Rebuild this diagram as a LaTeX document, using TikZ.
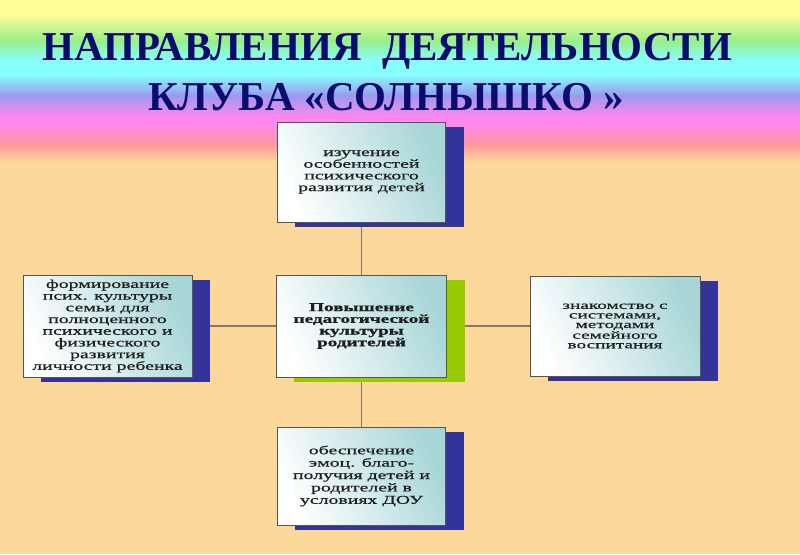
\documentclass[tikz,border=0pt]{standalone}
\usepackage{fontspec}
\setmainfont{Liberation Serif}
\newfontfamily\boxfont[FakeStretch=1.65, FakeBold=0.8]{Liberation Serif}
\newfontfamily\boxfontw[FakeStretch=1.75, FakeBold=0.8]{Liberation Serif}
\newfontfamily\boxfontb[FakeStretch=1.6, FakeBold=1.2]{Liberation Serif Bold}
\pgfdeclarelayer{bg}
\pgfdeclarelayer{lines}
\pgfdeclarelayer{shadows}
\pgfsetlayers{bg,lines,shadows,main}
\definecolor{cyel}{HTML}{FFFF99}
\definecolor{cgrn}{HTML}{99EE88}
\definecolor{ccyn}{HTML}{88FFFF}
\definecolor{clav}{HTML}{9A9AEE}
\definecolor{cpnk}{HTML}{FF88EE}
\definecolor{csal}{HTML}{FF9A9A}
\definecolor{cpeach}{HTML}{FCD99B}
\definecolor{navy}{RGB}{12,12,110}
\definecolor{boxteal}{HTML}{A8D6D8}
\definecolor{boxborder}{HTML}{555555}
\definecolor{boxtext}{HTML}{1E1E1E}
\definecolor{shblue}{HTML}{333399}
\definecolor{shgreen}{HTML}{99CC00}
\definecolor{linec}{HTML}{857862}
\tikzset{
  titletext/.style={text=navy, font=\fontsize{41}{41}\selectfont\bfseries, inner sep=0pt, anchor=base},
  infobox/.style={draw=boxborder, line width=0.6pt, left color=white, right color=boxteal,
    shading angle=115, align=center, text=boxtext, inner sep=2pt,
    font=\boxfont\fontsize{12}{11.7}\selectfont},
  conn/.style={draw=linec, line width=1.8pt},
}
\begin{document}
\begin{tikzpicture}[x=1pt,y=-1pt]
\useasboundingbox (0,0) rectangle (800,554);
\begin{pgfonlayer}{bg}
\fill[cpeach] (0,0) rectangle (800,554);
\fill[cyel] (0,0) rectangle (800,14.5);
\shade[top color=cyel, bottom color=cgrn] (0,14) rectangle (800,40.5);
\shade[top color=cgrn, bottom color=ccyn] (0,40) rectangle (800,60.5);
\fill[ccyn] (0,60) rectangle (800,74.5);
\shade[top color=ccyn, bottom color=clav] (0,74) rectangle (800,95.5);
\shade[top color=clav, bottom color=cpnk] (0,95) rectangle (800,116.5);
\fill[cpnk] (0,116) rectangle (800,124.5);
\shade[top color=cpnk, bottom color=csal] (0,124) rectangle (800,145.5);
\shade[top color=csal, bottom color=cpeach] (0,145) rectangle (800,162);
\end{pgfonlayer}

\node[titletext] (t1) at (387.5,60) {НАПРАВЛЕНИЯ\ \ ДЕЯТЕЛЬНОСТИ};
\node[titletext] (t2) at (386,110) {КЛУБА «СОЛНЫШКО »};

\node[infobox, minimum width=168pt, minimum height=100pt] (top) at (361.5,172)
  {изучение\\особенностей\\психического\\развития детей};
\node[infobox, minimum width=169pt, minimum height=102pt] (left) at (107.5,326)
  {формирование\\псих. культуры\\семьи для\\полноценного\\психического и\\физического\\развития\\личности ребенка};
\node[infobox, minimum width=170pt, minimum height=102pt,
  font=\boxfontb\fontsize{12}{11.7}\selectfont] (center) at (361.5,326)
  {Повышение\\педагогической\\культуры\\родителей};
\node[infobox, minimum width=170pt, minimum height=100pt,
  font=\boxfontw\fontsize{11}{9.6}\selectfont] (right) at (615,326)
  {знакомство с\\системами,\\методами\\семейного\\воспитания};
\node[infobox, minimum width=168pt, minimum height=98pt,
  font=\boxfont\fontsize{12}{12.4}\selectfont] (bottom) at (361.5,476)
  {обеспечение\\эмоц. благо-\\получия детей и\\родителей в\\условиях ДОУ};

\begin{pgfonlayer}{shadows}
\foreach \n/\c in {top/shblue, left/shblue, center/shgreen, right/shblue, bottom/shblue}
  \fill[\c] ([shift={(18,5)}]\n.south west) rectangle ([shift={(18,5)}]\n.north east);
\end{pgfonlayer}
\begin{pgfonlayer}{lines}
\draw[conn] (top) -- (center);
\draw[conn] (center) -- (bottom);
\draw[conn] (left) -- (center);
\draw[conn] (center) -- (right);
\end{pgfonlayer}
\end{tikzpicture}
\end{document}
